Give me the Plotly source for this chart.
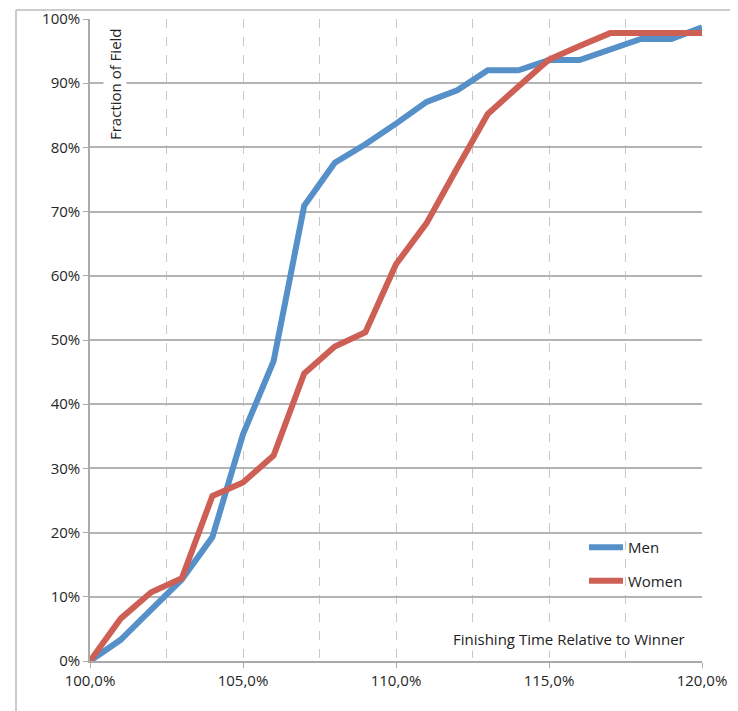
import plotly.graph_objects as go

x_pct = [100, 101, 102, 103, 104, 105, 106, 107, 108, 109, 110,
         111, 112, 113, 114, 115, 116, 117, 118, 119, 120]
men = [0.0, 0.033, 0.08, 0.127, 0.193, 0.353, 0.467, 0.709, 0.776, 0.805, 0.837,
       0.871, 0.889, 0.920, 0.920, 0.936, 0.936, 0.953, 0.969, 0.969, 0.987]
women = [0.0, 0.066, 0.107, 0.129, 0.257, 0.278, 0.320, 0.448, 0.490, 0.512, 0.618,
         0.682, 0.768, 0.852, 0.895, 0.937, 0.958, 0.978, 0.978, 0.978, 0.978]

x_ticks = [100, 105, 110, 115, 120]
x_tick_labels = ["100,0%", "105,0%", "110,0%", "115,0%", "120,0%"]
y_ticks = [0, 0.1, 0.2, 0.3, 0.4, 0.5, 0.6, 0.7, 0.8, 0.9, 1.0]

FONT = "Open Sans"
OFF = 8  # page body margin

fig = go.Figure()
fig.add_trace(go.Scatter(x=x_pct, y=men, mode="lines", name="Men", legendgroup="m",
                         line=dict(color="#5590C9", width=6)))
fig.add_trace(go.Scatter(x=x_pct, y=women, mode="lines", name="Women", legendgroup="w",
                         line=dict(color="#CD5F55", width=6)))

W, H = 738 - OFF, 711 - OFF
# plot area in window coordinates: x 90..702, y 19..661
L, T = 90 - OFF, 19 - OFF
R = W - (702 - OFF)
B = H - (661 - OFF)
pw, ph = W - L - R, H - T - B


def px(xw):
    return (xw - 90) / pw


def py(yw):
    return (661 - yw) / ph


border = dict(color="#bbbbbb", width=1.5)

fig.update_layout(
    width=W, height=H,
    margin=dict(l=L, r=R, t=T, b=B, pad=0, autoexpand=False),
    paper_bgcolor="white", plot_bgcolor="white",
    font=dict(family=FONT, size=15, color="#262626"),
    showlegend=True,
    legend=dict(x=px(584), y=py(531), xanchor="left", yanchor="top",
                bgcolor="rgba(0,0,0,0)", font=dict(size=15, color="#222"),
                tracegroupgap=11, itemwidth=34),
    xaxis=dict(range=[100, 120], tickvals=x_ticks, ticktext=x_tick_labels,
               automargin=False,
               showgrid=True, gridcolor="#c8c8c8", griddash="dash", gridwidth=1,
               minor=dict(dtick=2.5, tick0=100, showgrid=True, gridcolor="#c8c8c8",
                          griddash="dash", gridwidth=1),
               showline=True, linecolor="#aaaaaa", linewidth=1.5,
               ticks="outside", ticklen=5, tickcolor="#aaaaaa", zeroline=False,
               tickfont=dict(size=15)),
    yaxis=dict(range=[0, 1], tickvals=y_ticks, tickformat=".0%",
               automargin=False,
               showgrid=True, gridcolor="#b4b4b4", gridwidth=1.5,
               showline=True, linecolor="#aaaaaa", linewidth=1.5,
               ticks="outside", ticklen=5, tickcolor="#aaaaaa", zeroline=False,
               tickfont=dict(size=15)),
    shapes=[
        dict(type="line", xref="paper", yref="paper",
             x0=px(16), x1=px(740), y0=py(10), y1=py(10), line=border, layer="above"),
        dict(type="line", xref="paper", yref="paper",
             x0=px(16), x1=px(16), y0=py(10), y1=py(712), line=border, layer="above"),
    ],
    annotations=[
        dict(text="Fraction of Field", textangle=-90, xref="paper", yref="paper",
             x=px(115), y=py(84), showarrow=False,
             font=dict(size=15, color="#222"), bgcolor="white",
             xanchor="center", yanchor="middle"),
        dict(text="Finishing Time Relative to Winner", xref="paper", yref="paper",
             x=px(569), y=py(639), showarrow=False,
             font=dict(size=15, color="#222"), bgcolor="white",
             xanchor="center", yanchor="middle"),
    ],
)

fig.write_html("out.html")
